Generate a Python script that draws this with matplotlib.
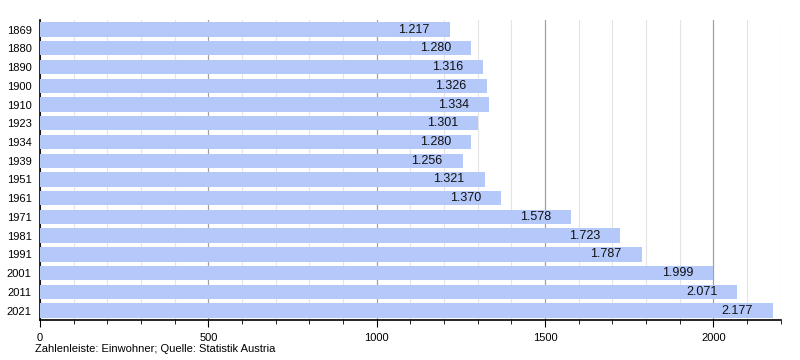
import numpy as np
import matplotlib.pyplot as plt
from matplotlib.ticker import MultipleLocator

plt.rcParams['font.family'] = ['Liberation Sans', 'DejaVu Sans']

years = ["1869", "1880", "1890", "1900", "1910", "1923", "1934", "1939",
         "1951", "1961", "1971", "1981", "1991", "2001", "2011", "2021"]
population = [1217, 1280, 1316, 1326, 1334, 1301, 1280, 1256,
              1321, 1370, 1578, 1723, 1787, 1999, 2071, 2177]
caption = "Zahlenleiste: Einwohner; Quelle: Statistik Austria"

fig = plt.figure(figsize=(8, 3.6), dpi=100)
ax = fig.add_axes([0.05, 0.111, 0.926, 0.833])

y = np.arange(len(years))
ax.barh(y, population, height=0.77, color="#b4c8fa", zorder=3)

for yi, v in zip(y, population):
    label = f"{v / 1000:.3f}"
    ax.annotate(label, (v, yi), xytext=(-14.5, 0), textcoords="offset points",
                ha="right", va="center", fontsize=9, color="#111111", zorder=4)

ax.set_xlim(0, 2200)
ax.set_ylim(len(years) - 0.5, -0.5)
ax.set_yticks(y)
ax.set_yticklabels(years, fontsize=8)
ax.tick_params(axis="y", length=0, pad=6)

ax.xaxis.set_major_locator(MultipleLocator(500))
ax.xaxis.set_minor_locator(MultipleLocator(100))
ax.tick_params(axis="x", which="major", length=5, labelsize=8, pad=4)
ax.tick_params(axis="x", which="minor", length=3)
ax.grid(axis="x", which="minor", color="#e4e4e4", linewidth=0.8, zorder=1)
ax.grid(axis="x", which="major", color="#a0a0a0", linewidth=0.9, zorder=2)

for s in ["top", "right"]:
    ax.spines[s].set_visible(False)
ax.spines["left"].set_linewidth(1.2)
ax.spines["bottom"].set_linewidth(1.2)

fig.text(35 / 800, 1 - 349 / 360, caption, fontsize=8, va="center", ha="left")

fig.savefig("out.png", dpi=100)
